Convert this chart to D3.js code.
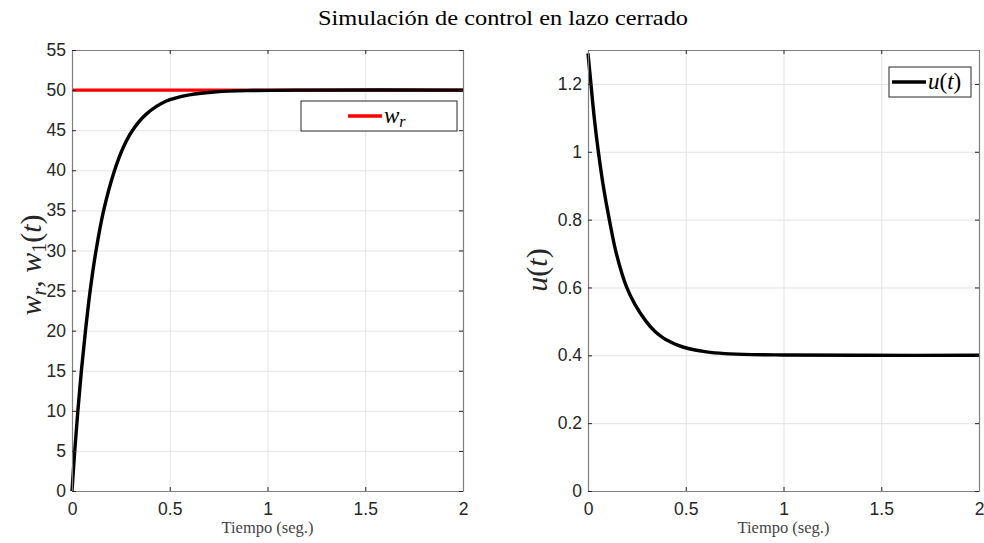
<!DOCTYPE html>
<html>
<head>
<meta charset="utf-8">
<script src="https://cdn.jsdelivr.net/npm/d3@7"></script>
<style>
  body { margin: 0; background: #fff; }
  svg { display: block; }
  .tick text { font-family: "Liberation Sans", Arial, sans-serif; font-size: 17.5px; fill: #262626; }
  .frame path.domain { stroke: #7f7f7f; stroke-width: 1.2; }
  .frame .tick line { stroke: #262626; stroke-width: 1; }
  .grid .tick line { stroke: #e3e3e3; stroke-width: 1; }
  .grid path.domain { display: none; }
</style>
</head>
<body>
<svg width="984" height="543"></svg>
<script>
// time axis
var xTicks = [0, 0.5, 1, 1.5, 2];

// left panel: reference and speed response
var tRef = [0, 2];
var wRef = [50, 50];
var tW = [0, 0.014, 0.03, 0.048, 0.069, 0.093, 0.123, 0.162, 0.218, 0.265, 0.31, 0.38, 0.48, 0.6, 0.74, 0.93, 1.2, 2.0];
var wVals = [0, 5, 10, 15, 20, 25, 30, 35, 40, 43, 45, 47, 48.6, 49.4, 49.8, 49.95, 50, 50];
var yTicksW = [0, 5, 10, 15, 20, 25, 30, 35, 40, 45, 50, 55];

// right panel: control signal
var tU = [0, 0.015, 0.032, 0.053, 0.078, 0.109, 0.145, 0.198, 0.24, 0.297, 0.343, 0.388, 0.42, 0.458, 0.512, 0.606, 0.7, 0.84, 1.0, 1.4, 2.0];
var uVals = [1.29, 1.2, 1.1, 1.0, 0.9, 0.8, 0.7, 0.6, 0.55, 0.5, 0.47, 0.45, 0.44, 0.43, 0.42, 0.41, 0.405, 0.402, 0.401, 0.4, 0.4];
var yTicksU = [0, 0.2, 0.4, 0.6, 0.8, 1, 1.2];

var svg = d3.select("svg");
var serif = '"Liberation Serif", "DejaVu Serif", serif';

svg.append("text")
  .attr("x", 503).attr("y", 25)
  .attr("text-anchor", "middle")
  .attr("textLength", 370).attr("lengthAdjust", "spacingAndGlyphs")
  .style("font-family", serif).style("font-size", "21px").style("fill", "#000")
  .text("Simulación de control en lazo cerrado");

function panel(p) {
  var x = d3.scaleLinear().domain([0, 2]).range([p.left, p.right]);
  var y = d3.scaleLinear().domain(p.yDomain).range([p.bottom, p.top]);
  var g = svg.append("g");
  var w = p.right - p.left, h = p.bottom - p.top;

  // grid
  g.append("g").attr("class", "grid")
    .attr("transform", "translate(0," + p.bottom + ")")
    .call(d3.axisBottom(x).tickValues(xTicks).tickSize(-h).tickFormat(""));
  g.append("g").attr("class", "grid")
    .attr("transform", "translate(" + p.left + ",0)")
    .call(d3.axisLeft(y).tickValues(p.yTicks).tickSize(-w).tickFormat(""));

  // lines
  var line = d3.line().x(function(d) { return x(d[0]); }).y(function(d) { return y(d[1]); })
    .curve(d3.curveCatmullRom.alpha(0.5));
  p.series.forEach(function(s) {
    g.append("path")
      .datum(d3.zip(s.t, s.v))
      .attr("d", line)
      .attr("fill", "none")
      .attr("stroke", s.color)
      .attr("stroke-width", 3.4)
      .attr("stroke-linejoin", "round");
  });

  // frame with inward ticks
  g.append("g").attr("class", "frame")
    .attr("transform", "translate(0," + p.bottom + ")")
    .call(d3.axisBottom(x).tickValues(xTicks).tickSize(-4).tickSizeOuter(0).tickPadding(12)
      .tickFormat(function(d) { return String(d); }));
  g.append("g").attr("class", "frame")
    .attr("transform", "translate(0," + p.top + ")")
    .call(d3.axisTop(x).tickValues(xTicks).tickSize(-4).tickSizeOuter(0).tickFormat(""));
  g.append("g").attr("class", "frame")
    .attr("transform", "translate(" + p.left + ",0)")
    .call(d3.axisLeft(y).tickValues(p.yTicks).tickSize(-4).tickSizeOuter(0).tickPadding(6)
      .tickFormat(function(d) { return String(d); }));
  g.append("g").attr("class", "frame")
    .attr("transform", "translate(" + p.right + ",0)")
    .call(d3.axisRight(y).tickValues(p.yTicks).tickSize(-4).tickSizeOuter(0).tickFormat(""));

  // x label
  g.append("text")
    .attr("x", (p.left + p.right) / 2).attr("y", 533)
    .attr("text-anchor", "middle")
    .style("font-family", serif).style("font-size", "16.5px").style("fill", "#444")
    .text("Tiempo (seg.)");

  // y label
  var yl = g.append("text")
    .attr("transform", "translate(" + p.ylabelX + "," + p.ylabelY + ") rotate(-90)")
    .attr("text-anchor", "middle")
    .style("font-family", serif).style("font-size", "30px").style("font-style", "italic").style("fill", "#262626");
  p.ylabel(yl);

  // legend
  var lg = g.append("g");
  lg.append("rect")
    .attr("x", p.legend.x).attr("y", p.legend.y)
    .attr("width", p.legend.w).attr("height", p.legend.h)
    .attr("fill", "#fff").attr("stroke", "#262626").attr("stroke-width", 1);
  lg.append("line")
    .attr("x1", p.legend.lx).attr("x2", p.legend.lx + 34)
    .attr("y1", p.legend.y + p.legend.h / 2).attr("y2", p.legend.y + p.legend.h / 2)
    .attr("stroke", p.legend.color).attr("stroke-width", 3.4);
  var lt = lg.append("text")
    .attr("x", p.legend.lx + 36).attr("y", p.legend.y + p.legend.h / 2 + 7)
    .style("font-family", serif).style("font-size", "23px").style("font-style", "italic").style("fill", "#000");
  p.legend.text(lt);
}

panel({
  left: 72, right: 463, top: 50, bottom: 491,
  yDomain: [0, 55], yTicks: yTicksW,
  series: [
    {t: tRef, v: wRef, color: "#ff0000"},
    {t: tW, v: wVals, color: "#000"}
  ],
  ylabelX: 41, ylabelY: 265,
  ylabel: function(t) {
    t.append("tspan").text("w");
    t.append("tspan").attr("baseline-shift", "-25%").style("font-size", "20px").text("r");
    t.append("tspan").style("font-style", "normal").text(", ");
    t.append("tspan").text("w");
    t.append("tspan").attr("baseline-shift", "-25%").style("font-size", "20px").style("font-style", "normal").text("1");
    t.append("tspan").style("font-style", "normal").text("(");
    t.append("tspan").text("t");
    t.append("tspan").style("font-style", "normal").text(")");
  },
  legend: {x: 301, y: 101, w: 156, h: 30, lx: 348, color: "#ff0000",
    text: function(t) {
      t.append("tspan").text("w");
      t.append("tspan").attr("baseline-shift", "-25%").style("font-size", "16px").text("r");
    }}
});

panel({
  left: 588, right: 979, top: 50, bottom: 491,
  yDomain: [0, 1.3], yTicks: yTicksU,
  series: [
    {t: tU, v: uVals, color: "#000"}
  ],
  ylabelX: 547, ylabelY: 270,
  ylabel: function(t) {
    t.append("tspan").text("u");
    t.append("tspan").style("font-style", "normal").text("(");
    t.append("tspan").text("t");
    t.append("tspan").style("font-style", "normal").text(")");
  },
  legend: {x: 889, y: 67, w: 82, h: 30, lx: 892, color: "#000",
    text: function(t) {
      t.append("tspan").text("u");
      t.append("tspan").style("font-style", "normal").text("(");
      t.append("tspan").text("t");
      t.append("tspan").style("font-style", "normal").text(")");
    }}
});
</script>
</body>
</html>
